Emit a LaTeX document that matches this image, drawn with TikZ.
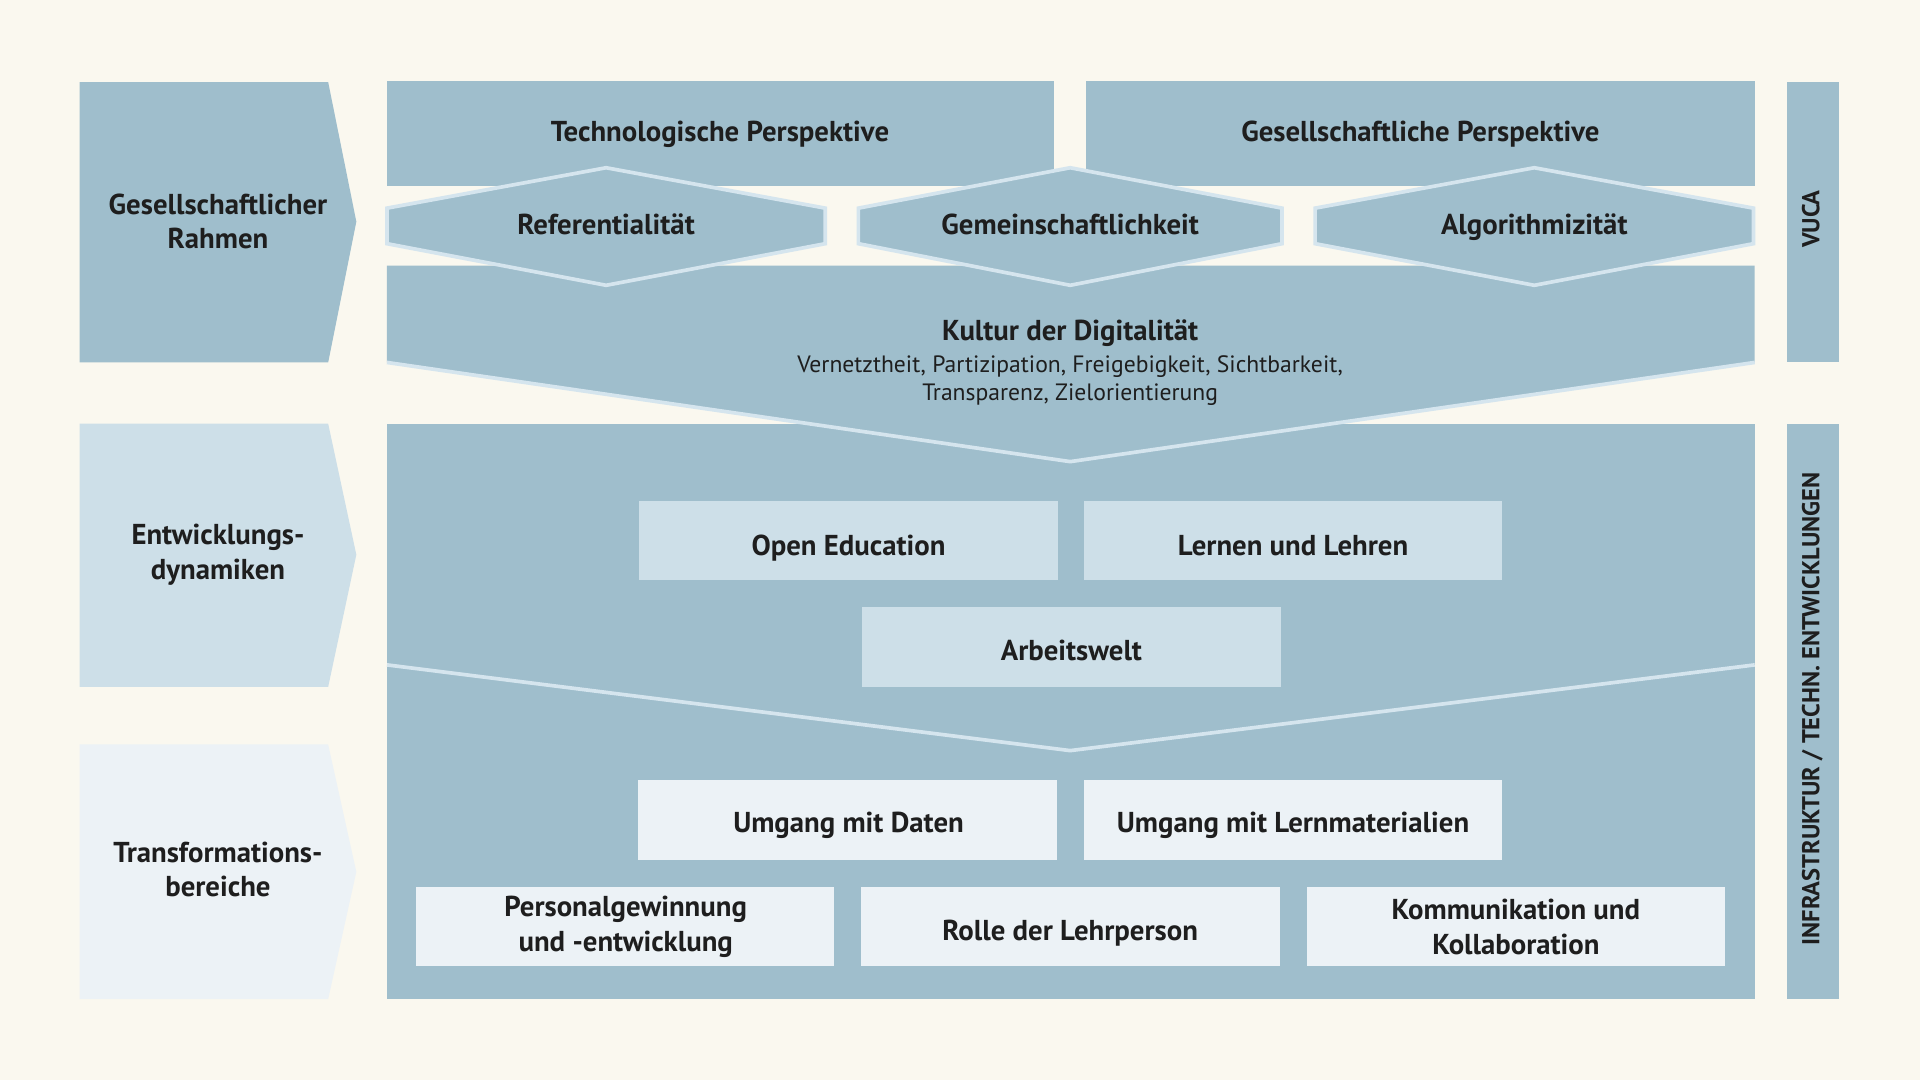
\documentclass[tikz,border=0pt]{standalone}
\usepackage{fontspec}
\setmainfont{PT Sans}
\definecolor{bgc}{HTML}{FAF8EF}
\definecolor{mainc}{HTML}{9FBECC}
\definecolor{lightc}{HTML}{CDDFE8}
\definecolor{palec}{HTML}{ECF2F6}
\definecolor{edgec}{HTML}{D5E5EE}
\definecolor{txtc}{HTML}{1E1E1E}
\begin{document}
\begin{tikzpicture}[x=1pt,y=-1pt,
  lbl/.style={text=txtc,font=\fontsize{23.5}{28}\selectfont\bfseries,align=center,inner sep=0pt},
  onelbl/.style={lbl,text height=1em,text depth=0.05em,yshift=-4pt},
  sublbl/.style={text=txtc,font=\fontsize{19.3}{23}\selectfont,align=center,inner sep=0pt},
  sidelbl/.style={text=txtc,font=\fontsize{20}{22}\selectfont\bfseries,rotate=90,inner sep=0pt,text height=1em,text depth=0.05em,xshift=2pt},
  hexedge/.style={draw=edgec,line width=3pt,fill=mainc,line join=miter},
  vline/.style={draw=edgec,line width=3pt}]
\fill[bgc] (0,0) rectangle (1568,882);
\useasboundingbox (0,0) rectangle (1568,882);

% left arrows
\fill[mainc] (65,67) -- (268,67) -- (291,181) -- (268,296) -- (65,296) -- cycle;
\fill[lightc] (65,346) -- (268,346) -- (291,453) -- (268,561) -- (65,561) -- cycle;
\fill[palec] (65,608) -- (268,608) -- (291,712) -- (268,816) -- (65,816) -- cycle;
\node[lbl] (rahmen) at (178,181) {Gesellschaftlicher\\Rahmen};
\node[lbl] (entw) at (178,453) {Entwicklungs-\\dynamiken};
\node[lbl] (trans) at (178,710) {Transformations-\\bereiche};

% right bars
\fill[mainc] (1459,67) rectangle (1502,296);
\fill[mainc] (1459,346) rectangle (1502,816);
\node[sidelbl] (vuca) at (1481,181) {VUCA};
\node[sidelbl] (infra) at (1481,581) {INFRASTRUKTUR / TECHN. ENTWICKLUNGEN};

% perspectives
\fill[mainc] (316,66) rectangle (861,152);
\fill[mainc] (887,66) rectangle (1433,152);
\node[onelbl] (tech) at (588,107) {Technologische Perspektive};
\node[onelbl] (gesp) at (1160,107) {Gesellschaftliche Perspektive};

% main box
\fill[mainc] (316,346) rectangle (1433,816);

% Kultur shape
\fill[mainc] (316,217) -- (1433,217) -- (1433,296) -- (874,377) -- (316,296) -- cycle;
\draw[vline] (316,296) -- (874,377) -- (1433,296);
\node[onelbl] (kultur) at (874,269) {Kultur der Digitalität};
\node[sublbl] (kulsub) at (874,311) {Vernetztheit, Partizipation, Freigebigkeit, Sichtbarkeit,\\Transparenz, Zielorientierung};

% hexagons
\draw[hexedge] (316,170) -- (495,137) -- (674,170) -- (674,199) -- (495,233) -- (316,199) -- cycle;
\draw[hexedge] (701,170) -- (874,137) -- (1047,170) -- (1047,199) -- (874,233) -- (701,199) -- cycle;
\draw[hexedge] (1074,170) -- (1253,137) -- (1432,170) -- (1432,199) -- (1253,233) -- (1074,199) -- cycle;
\node[onelbl] (refer) at (495,183) {Referentialität};
\node[onelbl] (gemein) at (874,183) {Gemeinschaftlichkeit};
\node[onelbl] (algo) at (1253,183) {Algorithmizität};

% V line lower
\draw[vline] (316,543) -- (874,613) -- (1433,543);

% Entwicklungsdynamiken boxes
\fill[lightc] (522,409) rectangle (864,474);
\fill[lightc] (885,409) rectangle (1227,474);
\fill[lightc] (704,496) rectangle (1046,561);
\node[onelbl] (open) at (693,445) {Open Education};
\node[onelbl] (lernen) at (1056,445) {Lernen und Lehren};
\node[onelbl] (arbeit) at (875,531) {Arbeitswelt};

% Transformationsbereiche boxes
\fill[palec] (521,637) rectangle (863,702);
\fill[palec] (885,637) rectangle (1227,702);
\fill[palec] (340,724) rectangle (681,789);
\fill[palec] (703,724) rectangle (1045,789);
\fill[palec] (1067,724) rectangle (1409,789);
\node[onelbl] (daten) at (693,671) {Umgang mit Daten};
\node[onelbl] (lernmat) at (1056,671) {Umgang mit Lernmaterialien};
\node[lbl] (personal) at (511,757) {Personalgewinnung\\und -entwicklung};
\node[onelbl] (rolle) at (874,759) {Rolle der Lehrperson};
\node[lbl] (komm) at (1238,757) {Kommunikation und\\Kollaboration};
\end{tikzpicture}
\end{document}
